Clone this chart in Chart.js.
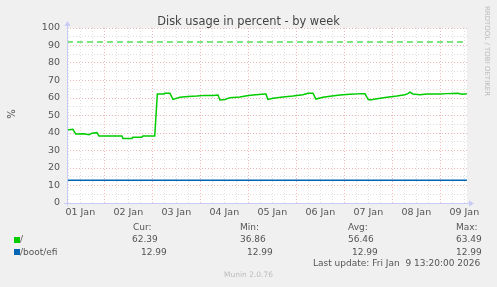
<!DOCTYPE html>
<html>
<head>
<meta charset="utf-8">
<script src="https://cdn.jsdelivr.net/npm/chart.js@4.4.1/dist/chart.umd.min.js"></script>
<style>
  body { margin: 0; background: #f0f0f0; }
  #wrap { position: relative; width: 497px; height: 287px; background: #f0f0f0; overflow: hidden;
          font-family: 'DejaVu Sans', sans-serif; color: #555; }
  #wrap canvas { position: absolute; left: 0; top: 0; }
  .t { position: absolute; white-space: pre; font-size: 9px; line-height: 12px; }
  .sw { position: absolute; width: 6px; height: 6px; }
</style>
</head>
<body>
<div id="wrap">
  <canvas id="myChart" width="497" height="287"></canvas>
  <div class="t" style="left:0;width:497px;top:14px;text-align:center;font-size:11.4px;line-height:14px;color:#444">Disk usage in percent - by week</div>
  <div class="t" style="left:6px;top:108px;width:12px;height:12px;text-align:center;transform:rotate(-90deg);font-size:10px">%</div>
  <div class="t" style="left:437px;top:45px;width:100px;text-align:center;transform:rotate(90deg);font-size:7px;color:#bbb">RRDTOOL / TOBI OETIKER</div>

  <div class="t" style="left:133px;top:221px">Cur:</div>
  <div class="t" style="left:240px;top:221px">Min:</div>
  <div class="t" style="left:348px;top:221px">Avg:</div>
  <div class="t" style="left:456px;top:221px">Max:</div>

  <div class="sw" style="left:14px;top:237px;background:#00CC00"></div>
  <div class="t" style="left:20px;top:233px" id="n0"></div>
  <div class="t" style="left:132px;top:233px" id="c0"></div>
  <div class="t" style="left:240px;top:233px" id="m0"></div>
  <div class="t" style="left:348px;top:233px" id="a0"></div>
  <div class="t" style="left:456px;top:233px" id="x0"></div>

  <div class="sw" style="left:14px;top:249px;background:#0066B3"></div>
  <div class="t" style="left:20px;top:246px" id="n1"></div>
  <div class="t" style="left:141px;top:246px" id="c1"></div>
  <div class="t" style="left:247px;top:246px" id="m1"></div>
  <div class="t" style="left:352px;top:246px" id="a1"></div>
  <div class="t" style="left:456px;top:246px" id="x1"></div>

  <div class="t" style="left:313px;top:257px">Last update: Fri Jan  9 13:20:00 2026</div>
  <div class="t" style="left:0;width:497px;top:269px;text-align:center;font-size:7.5px;color:#bbb">Munin 2.0.76</div>
</div>
<script>
// hours since 01 Jan 00:00
const startHour = 5.333;
const endHour = 205.333;
const dayLabels = ['01 Jan', '02 Jan', '03 Jan', '04 Jan', '05 Jan', '06 Jan', '07 Jan', '08 Jan', '09 Jan'];

const rootHours = [5.3, 8.3, 9.7, 13.8, 16.3, 17.8, 20.3, 21.3, 32.8, 33.3, 37.8, 38.3, 42.8, 43.3, 49.2, 50.5,
  53.8, 54.3, 56.8, 58.3, 61.8, 65.8, 70.3, 74.3, 78.3, 80.8, 81.8, 84.3, 86.8, 91.8, 95.3, 98.3,
  104.3, 104.8, 105.8, 108.3, 113.3, 118.3, 123.3, 125.8, 128.3, 129.8, 133.3, 137.8, 141.8, 146.8,
  152.8, 154.3, 155.8, 156.8, 160.3, 165.3, 170.3, 174.3, 175.8, 176.8, 178.3, 181.8, 185.3, 191.8,
  195.3, 200.8, 202.8, 205.3];
const rootValues = [41.7, 42.1, 39.4, 39.5, 39.0, 39.8, 40.2, 38.3, 38.3, 36.9, 36.9, 37.6, 37.6, 38.3, 38.3, 62.3,
  62.3, 62.7, 62.7, 59.2, 60.4, 60.8, 61.1, 61.5, 61.5, 61.7, 58.9, 59.2, 60.2, 60.6, 61.3, 61.7,
  62.3, 62.3, 59.2, 59.8, 60.6, 61.1, 61.9, 62.7, 62.7, 59.4, 60.4, 61.1, 61.7, 62.1,
  62.5, 62.5, 59.4, 58.9, 59.6, 60.4, 61.1, 61.9, 62.5, 63.4, 62.3, 61.9, 62.3, 62.3,
  62.5, 62.7, 62.1, 62.4];

const bootHours = [5.3, 205.3];
const bootValues = [12.99, 12.99];

const warnHours = [5.3, 205.3];
const warnValues = [92, 92];

const legendNames = ['/', '/boot/efi'];
const curValues = ['62.39', '12.99'];
const minValues = ['36.86', '12.99'];
const avgValues = ['56.46', '12.99'];
const maxValues = ['63.49', '12.99'];

legendNames.forEach((n, i) => {
  document.getElementById('n' + i).textContent = n;
  document.getElementById('c' + i).textContent = curValues[i];
  document.getElementById('m' + i).textContent = minValues[i];
  document.getElementById('a' + i).textContent = avgValues[i];
  document.getElementById('x' + i).textContent = maxValues[i];
});

const toPoints = (xs, ys) => xs.map((x, i) => ({ x: x, y: ys[i] }));

// rrdtool style axis lines with arrows
const axisArrows = {
  id: 'axisArrows',
  afterDraw(chart) {
    const { ctx, chartArea: a } = chart;
    ctx.save();
    ctx.strokeStyle = '#c8ccf4';
    ctx.fillStyle = '#c8ccf4';
    ctx.lineWidth = 1;
    ctx.beginPath();
    ctx.moveTo(a.left + 0.5, a.bottom + 3);
    ctx.lineTo(a.left + 0.5, a.top - 4);
    ctx.moveTo(a.left - 3, a.bottom + 0.5);
    ctx.lineTo(a.right + 4, a.bottom + 0.5);
    ctx.stroke();
    ctx.beginPath();
    ctx.moveTo(a.left - 2.5, a.top - 2);
    ctx.lineTo(a.left + 3.5, a.top - 2);
    ctx.lineTo(a.left + 0.5, a.top - 7);
    ctx.closePath();
    ctx.fill();
    ctx.beginPath();
    ctx.moveTo(a.right + 2, a.bottom - 2.5);
    ctx.lineTo(a.right + 2, a.bottom + 3.5);
    ctx.lineTo(a.right + 7, a.bottom + 0.5);
    ctx.closePath();
    ctx.fill();
    ctx.restore();
  }
};

// white plot background
const plotBg = {
  id: 'plotBg',
  beforeDraw(chart) {
    const { ctx, chartArea: a } = chart;
    ctx.save();
    ctx.fillStyle = '#ffffff';
    ctx.fillRect(a.left, a.top, a.right - a.left, a.bottom - a.top);
    ctx.restore();
  }
};

const ctx = document.getElementById('myChart').getContext('2d');
new Chart(ctx, {
  type: 'line',
  data: {
    datasets: [
      {
        label: legendNames[0],
        data: toPoints(rootHours, rootValues),
        borderColor: '#00CC00',
        borderWidth: 1.5,
        pointRadius: 0,
        tension: 0,
      },
      {
        label: legendNames[1],
        data: toPoints(bootHours, bootValues),
        borderColor: '#0066B3',
        borderWidth: 1.5,
        pointRadius: 0,
      },
      {
        label: 'warning',
        data: toPoints(warnHours, warnValues),
        borderColor: '#00CC00',
        borderWidth: 1.2,
        borderDash: [6, 4],
        pointRadius: 0,
      },
    ],
  },
  plugins: [plotBg, axisArrows],
  options: {
    responsive: false,
    animation: false,
    layout: { padding: { left: 0, top: 28, right: 30, bottom: 0 } },
    plugins: {
      legend: { display: false },
      tooltip: { enabled: false },
      title: { display: false },
    },
    scales: {
      x: {
        type: 'linear',
        min: startHour,
        max: endHour,
        afterFit: (scale) => { scale.height = 84; },
        afterBuildTicks: (scale) => {
          const ticks = [];
          for (let h = 6; h <= 204; h += 6) ticks.push({ value: h });
          scale.ticks = ticks;
        },
        ticks: {
          autoSkip: false,
          maxRotation: 0,
          padding: 4,
          color: '#555',
          font: { family: 'DejaVu Sans', size: 9.5 },
          callback: (v) => (v % 24 === 12 ? dayLabels[(v - 12) / 24] : ''),
        },
        grid: {
          drawTicks: false,
          lineWidth: 1,
          color: (c) => (c.tick && c.tick.value % 24 === 0 ? 'rgba(230,130,130,0.6)' : 'rgba(200,200,200,0.6)'),
        },
        border: { display: false, dash: [1, 2] },
      },
      y: {
        min: 0,
        max: 100,
        afterFit: (scale) => { scale.width = 67; },
        afterBuildTicks: (scale) => {
          const ticks = [];
          for (let v = 0; v <= 100; v += 5) ticks.push({ value: v });
          scale.ticks = ticks;
        },
        ticks: {
          autoSkip: false,
          padding: 7,
          color: '#555',
          font: { family: 'DejaVu Sans', size: 9.5 },
          callback: (v) => (v % 10 === 0 ? String(v) : ''),
        },
        grid: {
          drawTicks: false,
          lineWidth: 1,
          color: (c) => (c.tick && c.tick.value % 10 === 0 ? 'rgba(230,130,130,0.6)' : 'rgba(200,200,200,0.6)'),
        },
        border: { display: false, dash: [1, 2] },
      },
    },
  },
});
</script>
</body>
</html>
